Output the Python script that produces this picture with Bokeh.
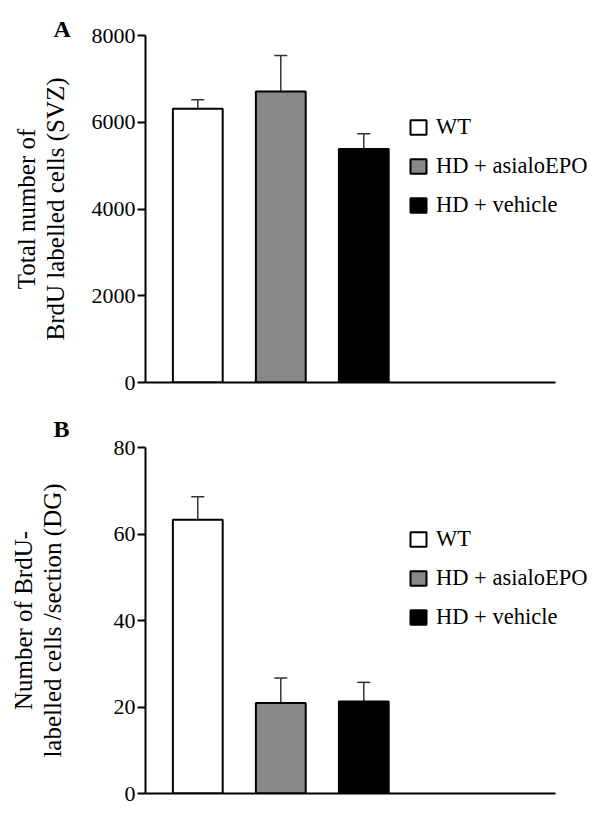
import numpy as np
from bokeh.plotting import figure
from bokeh.models import (ColumnDataSource, Range1d, FixedTicker, Whisker, TeeHead,
                          Legend, LegendItem)
from bokeh.layouts import column
from bokeh.embed import file_html
from bokeh.resources import INLINE

# ---- data ----
groups = ["WT", "HD + asialoEPO", "HD + vehicle"]
bar_colors = ["#ffffff", "#888888", "#000000"]

svz_values = [6310, 6710, 5385]
svz_upper = [6520, 7540, 5735]
svz_ticks = [0, 2000, 4000, 6000, 8000]
svz_label = "Total number of\nBrdU labelled cells (SVZ)"

dg_values = [63.3, 20.9, 21.3]
dg_upper = [68.6, 26.7, 25.7]
dg_ticks = [0, 20, 40, 60, 80]
dg_label = "Number of BrdU-\nlabelled cells /section (DG)"

FONT = "Liberation Serif"
WIDTH = 592
LEFT = 145
PX_PER_UNIT = 83.0
X0 = 0.37
AXIS_END = 5.31


def panel(letter, values, upper, ticks, ylabel, height, top, bottom, standoff,
          legend_y, title_standoff):
    x = list(range(1, len(groups) + 1))
    src = ColumnDataSource(dict(x=x, top=values, upper=upper, color=bar_colors, label=groups))
    x_end = X0 + (WIDTH - LEFT) / PX_PER_UNIT
    p = figure(width=WIDTH, height=height, output_backend="svg", toolbar_location=None,
               x_range=Range1d(X0, x_end), y_range=Range1d(0, ticks[-1]),
               min_border_left=LEFT, min_border_right=0,
               min_border_top=top, min_border_bottom=bottom)
    p.outline_line_color = None
    p.grid.visible = False

    r = p.vbar(x="x", top="top", bottom=0, width=0.6, source=src,
               fill_color="color", line_color="black", line_width=2)
    w = Whisker(base="x", upper="upper", lower="top", source=src, dimension="height",
                line_color="#333333", line_width=1.5,
                upper_head=TeeHead(size=13, line_color="#333333", line_width=1.5),
                lower_head=None)
    p.add_layout(w)

    items = [LegendItem(label=g, renderers=[r], index=i) for i, g in enumerate(groups)]
    legend = Legend(items=items, location=(263, legend_y), glyph_width=20, glyph_height=18,
                    label_standoff=8, spacing=13, padding=0, margin=0,
                    border_line_color=None, background_fill_alpha=0,
                    label_text_font=FONT, label_text_font_size="22.5px", label_height=22,
                    label_text_color="black")
    p.add_layout(legend)

    ya = p.yaxis[0]
    ya.ticker = FixedTicker(ticks=ticks)
    ya.axis_label = ylabel
    ya.axis_label_text_font = FONT
    ya.axis_label_text_font_size = "25px"
    ya.axis_label_text_font_style = "normal"
    ya.axis_label_text_color = "black"
    ya.axis_label_text_line_height = 1.05
    ya.axis_label_standoff = standoff
    ya.major_label_text_font = FONT
    ya.major_label_text_font_size = "22px"
    ya.major_label_text_color = "black"
    ya.major_label_standoff = 2
    ya.major_tick_out = 8
    ya.major_tick_in = 0
    ya.major_tick_line_width = 2
    ya.minor_tick_line_color = None
    ya.axis_line_width = 2

    xa = p.xaxis[0]
    xa.ticker = FixedTicker(ticks=[])
    xa.bounds = (X0, AXIS_END)
    xa.major_tick_line_color = None
    xa.minor_tick_line_color = None
    xa.major_label_text_font_size = "0px"
    xa.axis_line_width = 2

    p.title.text = letter
    p.title.align = "left"
    p.title.offset = -92
    p.title.standoff = title_standoff
    p.title.text_font = FONT
    p.title.text_font_size = "24px"
    p.title.text_font_style = "bold"
    p.title.text_color = "black"
    return p


p1 = panel("A", svz_values, svz_upper, svz_ticks, svz_label, 405, 35, 23, 20, 164, -12)
p2 = panel("B", dg_values, dg_upper, dg_ticks, dg_label, 405, 42, 17, 45, 163, 11)

layout = column(p1, p2, spacing=0)
open("out.html", "w").write(file_html(layout, INLINE))
